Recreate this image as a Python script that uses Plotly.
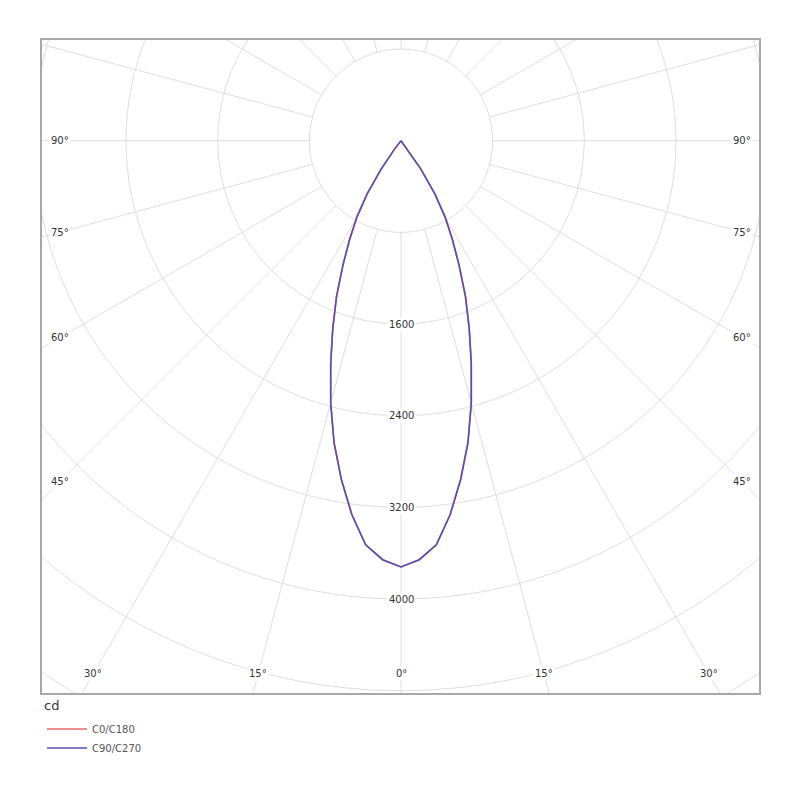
import numpy as np
import plotly.graph_objects as go

# ---- data ----
gamma_deg = [0, 2.5, 5, 7.5, 10, 12.5, 15, 17.5, 20, 22.5, 25, 27.5, 30, 32.5, 35, 37.5,
             40, 45, 50, 55, 60, 65, 70, 75, 80, 85, 90]
c0_c180 = [3720, 3660, 3540, 3290, 3000, 2700, 2370, 2040, 1740, 1470, 1200, 970, 770, 550, 300, 90,
           0, 0, 0, 0, 0, 0, 0, 0, 0, 0, 0]
c90_c270 = [3720, 3660, 3540, 3290, 3000, 2700, 2370, 2040, 1740, 1470, 1200, 970, 770, 550, 300, 90,
            0, 0, 0, 0, 0, 0, 0, 0, 0, 0, 0]
ring_values = [800, 1600, 2400, 3200, 4000, 4800, 5600]
ring_labels = [1600, 2400, 3200, 4000]
angle_labels = [0, 15, 30, 45, 60, 75, 90]
spoke_step = 15
series_names = ["C0/C180", "C90/C270"]
series_colors = ["#e46a6a", "#5a4fae"]

# ---- layout geometry ----
W, H = 800, 800
ml, mr, mt, mb = 34, 49, 32, 115
page_off = 8
px_per_cd = 91.67 / 800.0
cx_px, cy_px = 401 - page_off, 140.7 - page_off
x_range = [-(cx_px - ml) / px_per_cd, (W - mr - cx_px) / px_per_cd]
y_range = [-(H - mb - cy_px) / px_per_cd, (cy_px - mt) / px_per_cd]
grid_color = "#dedede"
font_family = "DejaVu Sans"


def curve(values):
    g = np.radians(np.array(gamma_deg, dtype=float))
    v = np.array(values, dtype=float)
    gl = -g[::-1]
    vl = v[::-1]
    gg = np.concatenate([gl, g[1:]])
    vv = np.concatenate([vl, v[1:]])
    return vv * np.sin(gg), -vv * np.cos(gg)


fig = go.Figure()
for name, vals, col in zip(series_names, [c0_c180, c90_c270], series_colors):
    x, y = curve(vals)
    fig.add_trace(go.Scatter(x=x, y=y, mode="lines", name=name,
                             line=dict(color=col, width=1.6), hoverinfo="skip"))

shapes = []
for r in ring_values:
    shapes.append(dict(type="circle", xref="x", yref="y", x0=-r, x1=r, y0=-r, y1=r,
                       line=dict(color=grid_color, width=1), layer="below"))
r_in, r_out = ring_values[0], 8000
for a in range(0, 360, spoke_step):
    t = np.radians(a)
    shapes.append(dict(type="line", xref="x", yref="y",
                       x0=r_in * np.sin(t), y0=-r_in * np.cos(t),
                       x1=r_out * np.sin(t), y1=-r_out * np.cos(t),
                       line=dict(color=grid_color, width=1), layer="below"))

annotations = []
for v in ring_labels:
    annotations.append(dict(x=0, y=-v, xref="x", yref="y", text=str(v), showarrow=False,
                            font=dict(family=font_family, size=10, color="#333333"),
                            bgcolor="white", borderpad=1))

# angle labels placed where each spoke meets an inset rectangle
inset_x = 341 / px_per_cd
inset_y = 533 / px_per_cd
for a in angle_labels:
    t = np.radians(a)
    s, c = np.sin(t), np.cos(t)
    dist = min(inset_x / s if s > 1e-9 else 1e12, inset_y / c if c > 1e-9 else 1e12)
    sides = [1] if a == 0 else [1, -1]
    for sd in sides:
        annotations.append(dict(x=sd * dist * s, y=-dist * c, xref="x", yref="y",
                                text=f"{a}°", showarrow=False,
                                font=dict(family=font_family, size=10, color="#333333"),
                                bgcolor="white", borderpad=1))

annotations.append(dict(x=0.0, y=-0.005, xref="paper", yref="paper", xanchor="left", yanchor="top",
                        xshift=0, text="cd", showarrow=False,
                        font=dict(family=font_family, size=13, color="#333333")))

axis_common = dict(showgrid=False, zeroline=False, showticklabels=False, ticks="",
                   showline=True, mirror=True, linecolor="#a8a8a8", linewidth=1.5, fixedrange=True)
fig.update_layout(
    width=W, height=H,
    margin=dict(l=ml, r=mr, t=mt, b=mb),
    paper_bgcolor="white", plot_bgcolor="white",
    xaxis=dict(range=x_range, **axis_common),
    yaxis=dict(range=y_range, **axis_common),
    shapes=shapes, annotations=annotations,
    showlegend=True,
    legend=dict(x=0, y=-0.033, xanchor="left", yanchor="top", bgcolor="rgba(0,0,0,0)",
                font=dict(family=font_family, size=10, color="#555555"),
                tracegroupgap=0, itemwidth=40),
    font=dict(family=font_family),
)

fig.write_html("out.html")
